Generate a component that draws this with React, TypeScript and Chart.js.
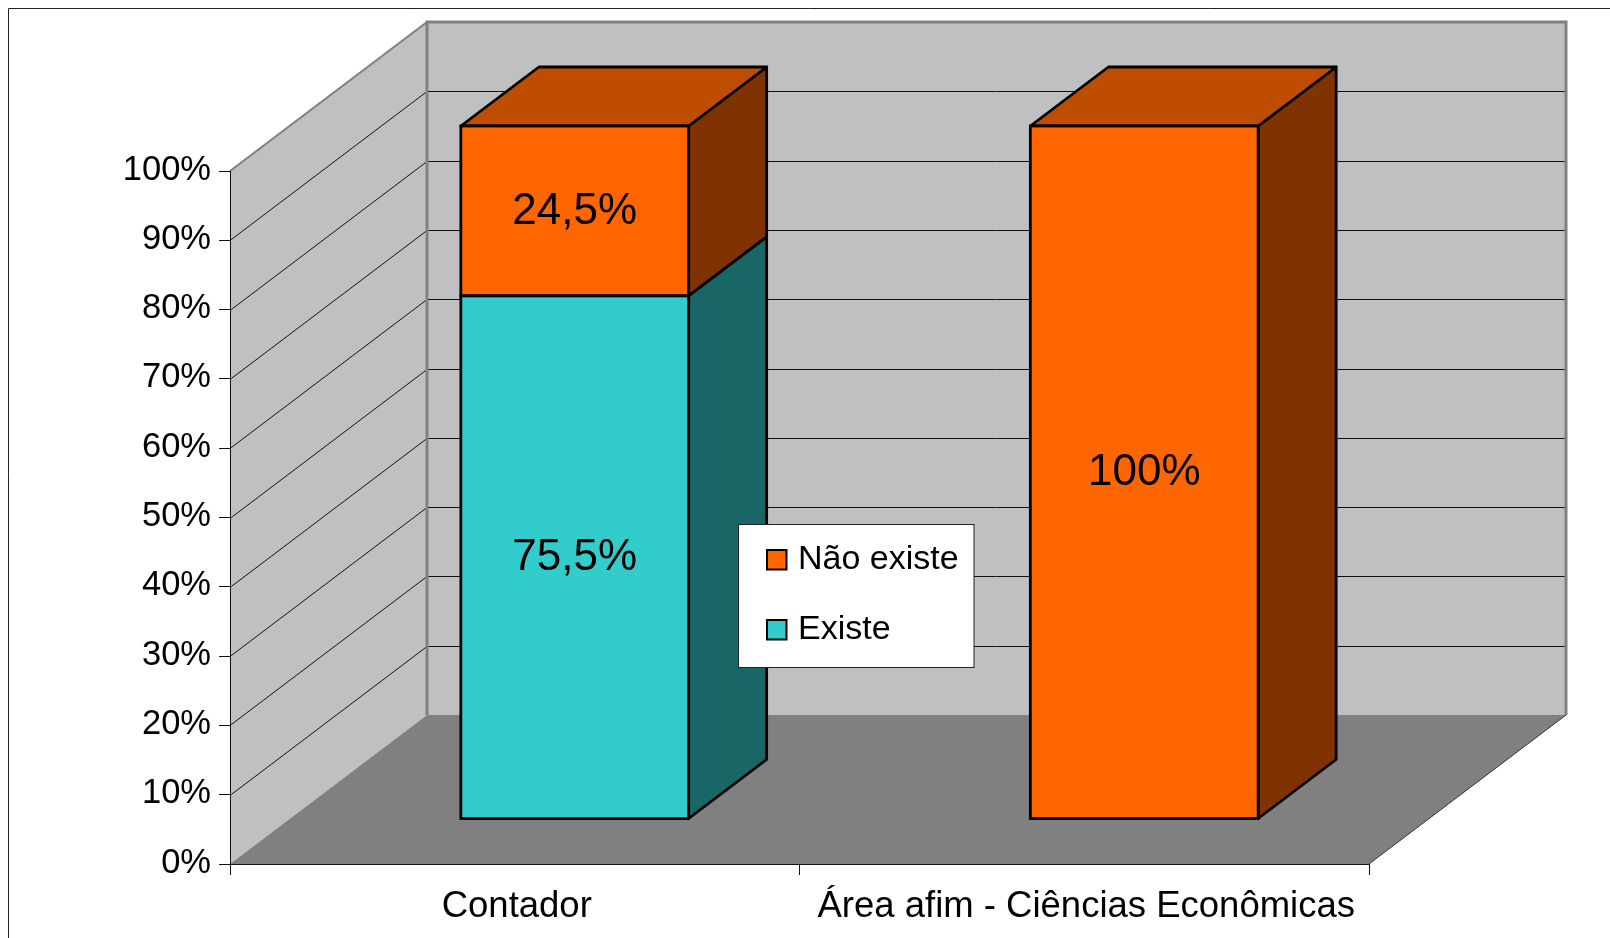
import React, { useEffect, useRef } from "react";
import { Chart, registerables } from "chart.js";

Chart.register(...registerables);

const categories = ["Contador", "Área afim - Ciências Econômicas"];
const existeValues = [75.5, 0];
const naoExisteValues = [24.5, 100];
const existeLabels = ["75,5%", ""];
const naoExisteLabels = ["24,5%", "100%"];
const yTicks = [0, 10, 20, 30, 40, 50, 60, 70, 80, 90, 100];

const FONT = '"Liberation Sans", Arial, sans-serif';
const WALL = "#C0C0C0";
const WALL_EDGE = "#808080";
const FLOOR = "#808080";
const LINE = "#111111";
const BAR_LINE_WIDTH = 2.8;

// Oblique projection: full floor depth, and where the bars sit inside it.
const DEPTH_X = 197;
const DEPTH_Y = 149;
const BAR_OFFSET_X = 60;
const BAR_OFFSET_Y = 45;
const BAR_DEPTH_X = 78;
const BAR_DEPTH_Y = 59;

const faceColors: Record<string, { side: string; top: string }> = {
  "#33CCCC": { side: "#196666", top: "#269999" },
  "#FF6600": { side: "#803300", top: "#BF4D00" },
};

function poly(ctx: CanvasRenderingContext2D, pts: number[][]) {
  ctx.beginPath();
  pts.forEach(([x, y], i) => (i ? ctx.lineTo(x, y) : ctx.moveTo(x, y)));
  ctx.closePath();
}

const scenePlugin = {
  id: "scene3d",
  // Page frame, walls, floor and the grid that runs across the walls.
  beforeDraw(chart: any) {
    const { ctx, chartArea: a, scales } = chart;
    const { left: l, right: r, top: t, bottom: b } = a;
    ctx.save();
    ctx.fillStyle = "#fff";
    ctx.fillRect(0, 0, chart.width, chart.height);

    ctx.strokeStyle = "#222";
    ctx.lineWidth = 1;
    ctx.beginPath();
    ctx.moveTo(8.5, chart.height);
    ctx.lineTo(8.5, 8.5);
    ctx.lineTo(chart.width, 8.5);
    ctx.stroke();

    ctx.fillStyle = WALL;
    poly(ctx, [[l, t], [l + DEPTH_X, t - DEPTH_Y], [l + DEPTH_X, b - DEPTH_Y], [l, b]]);
    ctx.fill();
    ctx.fillRect(l + DEPTH_X, t - DEPTH_Y, r - l, b - t);

    ctx.fillStyle = FLOOR;
    poly(ctx, [[l, b], [l + DEPTH_X, b - DEPTH_Y], [r + DEPTH_X, b - DEPTH_Y], [r, b]]);
    ctx.fill();

    ctx.strokeStyle = LINE;
    ctx.lineWidth = 1;
    for (const v of yTicks) {
      if (v === 0 || v === 100) continue;
      const y = Math.round(scales.y.getPixelForValue(v)) + 0.5;
      ctx.beginPath();
      ctx.moveTo(l, y);
      ctx.lineTo(l + DEPTH_X, y - DEPTH_Y);
      ctx.lineTo(r + DEPTH_X, y - DEPTH_Y);
      ctx.stroke();
    }

    ctx.strokeStyle = WALL_EDGE;
    ctx.lineWidth = 2;
    ctx.beginPath();
    ctx.moveTo(l, t);
    ctx.lineTo(l + DEPTH_X, t - DEPTH_Y);
    ctx.stroke();
    ctx.lineWidth = 3;
    ctx.beginPath();
    ctx.moveTo(l + DEPTH_X, b - DEPTH_Y);
    ctx.lineTo(l + DEPTH_X, t - DEPTH_Y);
    ctx.lineTo(r + DEPTH_X, t - DEPTH_Y);
    ctx.lineTo(r + DEPTH_X, b - DEPTH_Y);
    ctx.stroke();

    ctx.strokeStyle = "#333";
    ctx.lineWidth = 1;
    ctx.beginPath();
    ctx.moveTo(r, b);
    ctx.lineTo(r + DEPTH_X, b - DEPTH_Y);
    ctx.stroke();
    ctx.restore();
  },
  // Side and top faces go down first, then the front face is drawn shifted back.
  beforeDatasetDraw(chart: any, args: any) {
    const { ctx } = chart;
    const meta = args.meta;
    const datasets = chart.data.datasets;
    const colors = faceColors[datasets[args.index].backgroundColor];
    ctx.save();
    ctx.lineWidth = BAR_LINE_WIDTH;
    ctx.lineJoin = "round";
    ctx.strokeStyle = "#000";
    meta.data.forEach((bar: any, i: number) => {
      if (!datasets[args.index].data[i]) return;
      const { x, y, base, width } = bar.getProps(["x", "y", "base", "width"], true);
      const fr = x + width / 2 + BAR_OFFSET_X;
      const fl = x - width / 2 + BAR_OFFSET_X;
      const ft = y - BAR_OFFSET_Y;
      const fb = base - BAR_OFFSET_Y;
      ctx.fillStyle = colors.side;
      poly(ctx, [[fr, ft], [fr + BAR_DEPTH_X, ft - BAR_DEPTH_Y], [fr + BAR_DEPTH_X, fb - BAR_DEPTH_Y], [fr, fb]]);
      ctx.fill();
      ctx.stroke();
      // Only the uppermost segment of a stack shows its top face.
      const covered = datasets.slice(args.index + 1).some((d: any) => d.data[i] > 0);
      if (!covered) {
        ctx.fillStyle = colors.top;
        poly(ctx, [[fl, ft], [fl + BAR_DEPTH_X, ft - BAR_DEPTH_Y], [fr + BAR_DEPTH_X, ft - BAR_DEPTH_Y], [fr, ft]]);
        ctx.fill();
        ctx.stroke();
      }
    });
    ctx.restore();
    ctx.save();
    ctx.translate(BAR_OFFSET_X, -BAR_OFFSET_Y);
  },
  afterDatasetDraw(chart: any) {
    chart.ctx.restore();
  },
  afterDatasetsDraw(chart: any) {
    const { ctx } = chart;
    const datasets = chart.data.datasets;
    ctx.save();
    // Front outlines and value labels.
    datasets.forEach((ds: any, di: number) => {
      const meta = chart.getDatasetMeta(di);
      meta.data.forEach((bar: any, i: number) => {
        if (!ds.data[i]) return;
        const { x, y, base, width } = bar.getProps(["x", "y", "base", "width"], true);
        ctx.strokeStyle = "#000";
        ctx.lineWidth = BAR_LINE_WIDTH;
        ctx.strokeRect(x - width / 2 + BAR_OFFSET_X, y - BAR_OFFSET_Y, width, base - y);
      });
    });
    ctx.fillStyle = "#000";
    ctx.font = `44px ${FONT}`;
    ctx.textAlign = "center";
    ctx.textBaseline = "middle";
    datasets.forEach((ds: any, di: number) => {
      const meta = chart.getDatasetMeta(di);
      meta.data.forEach((bar: any, i: number) => {
        const text = ds.valueLabels[i];
        if (!text) return;
        const { x, y, base } = bar.getProps(["x", "y", "base"], true);
        ctx.fillText(text, x + BAR_OFFSET_X, (y + base) / 2 - BAR_OFFSET_Y + 1);
      });
    });

    // Legend box, last series first.
    const boxX = 738.5;
    const boxY = 524.5;
    ctx.fillStyle = "#fff";
    ctx.fillRect(boxX, boxY, 235.5, 143);
    ctx.strokeStyle = "#222";
    ctx.lineWidth = 1;
    ctx.strokeRect(boxX, boxY, 235.5, 143);
    [...datasets].reverse().forEach((ds: any, i: number) => {
      const rowY = 560 + i * 70;
      ctx.fillStyle = ds.backgroundColor;
      ctx.strokeStyle = "#000";
      ctx.lineWidth = 2;
      ctx.fillRect(767, rowY - 10, 19.5, 19.5);
      ctx.strokeRect(767, rowY - 10, 19.5, 19.5);
      ctx.fillStyle = "#000";
      ctx.font = `34px ${FONT}`;
      ctx.textAlign = "left";
      ctx.textBaseline = "middle";
      ctx.fillText(ds.label, 798, rowY);
    });
    ctx.restore();
  },
};

export default function App() {
  const ref = useRef<HTMLCanvasElement>(null);

  useEffect(() => {
    const chart = new Chart(ref.current!, {
      type: "bar",
      data: {
        labels: categories,
        datasets: [
          { label: "Existe", data: existeValues, backgroundColor: "#33CCCC", valueLabels: existeLabels } as any,
          { label: "Não existe", data: naoExisteValues, backgroundColor: "#FF6600", valueLabels: naoExisteLabels } as any,
        ],
      },
      options: {
        responsive: false,
        animation: false,
        layout: { autoPadding: false, padding: { left: 0, top: 171, right: 241, bottom: 0 } },
        plugins: { legend: { display: false }, tooltip: { enabled: false }, title: { display: false } },
        datasets: { bar: { barPercentage: 0.4, categoryPercentage: 1, borderWidth: 0, clip: false as any } },
        scales: {
          x: {
            stacked: true,
            offset: true,
            afterFit: (s: any) => { s.height = 74; },
            grid: { offset: true, drawOnChartArea: false, drawTicks: true, tickLength: 11, color: LINE },
            border: { display: true, color: LINE, width: 1 },
            ticks: { color: "#000", font: { family: FONT, size: 36.5 }, padding: 10, labelOffset: 2, maxRotation: 0, autoSkip: false },
          },
          y: {
            stacked: true,
            min: 0,
            max: 100,
            afterFit: (s: any) => { s.width = 230; },
            grid: { drawOnChartArea: false, drawTicks: true, tickLength: 11, color: LINE },
            border: { display: true, color: LINE, width: 1 },
            ticks: {
              stepSize: 10,
              color: "#000",
              font: { family: FONT, size: 34.5 },
              padding: 8,
              labelOffset: -1,
              callback: (v: any) => `${v}%`,
            },
          },
        },
      },
      plugins: [scenePlugin],
    } as any);
    return () => chart.destroy();
  }, []);

  return (
    <div style={{ position: "fixed", left: 0, top: 0, width: 1610, height: 938, background: "#fff" }}>
      <canvas ref={ref} width={1610} height={938} style={{ display: "block" }} />
    </div>
  );
}
